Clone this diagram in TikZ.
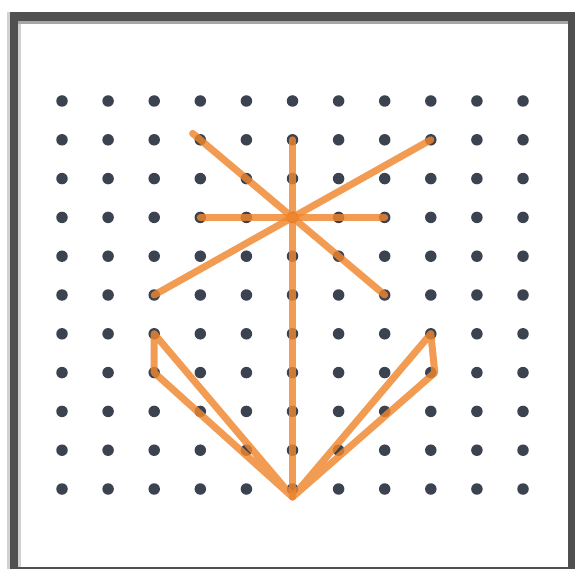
\documentclass[tikz,border=0pt]{standalone}
\usetikzlibrary{positioning}
\definecolor{frame}{HTML}{505050}
\definecolor{peg}{HTML}{3C4350}
\definecolor{band}{HTML}{F0862C}
\begin{document}
\begin{tikzpicture}[x=1pt, y=-1pt,
  dot/.style={circle, fill=peg, inner sep=0pt, minimum size=11.5pt},
  rubber/.style={draw=band, line width=7pt, opacity=0.82, line cap=round, line join=round}]
\useasboundingbox (0,0) rectangle (575,569);

% cornice
\fill[black!18] (7,12) rectangle (575,569);
\fill[frame] (10,12) rectangle (575,569);
\fill[black!35] (18,21) rectangle (568,24);
\fill[black!18] (18,24) rectangle (21,567);
\fill[white] (21,24) rectangle (568,567);

% chiodi del geopiano
\foreach \c in {0,...,10}
  \foreach \r in {0,...,10}
    \node[dot] (d-\c-\r) at (62+46.1*\c, 101+38.8*\r) {};

\coordinate[below=8pt of d-5-10.center] (tip);

% elastici
\draw[rubber] (d-5-1.center) -- (tip);
\draw[rubber] (d-3-3.center) -- (d-7-3.center);
\draw[rubber, shorten <=-10pt] (d-3-1.center) -- (d-7-5.center);
\draw[rubber] (d-2-5.center) -- (d-8-1.center);
\draw[rubber] (d-2-6.center) -- (d-2-7.center) -- (tip) -- cycle;
\draw[rubber] (d-8-6.center) -- ([xshift=4pt]d-8-7.center) -- (tip) -- cycle;

\end{tikzpicture}
\end{document}
